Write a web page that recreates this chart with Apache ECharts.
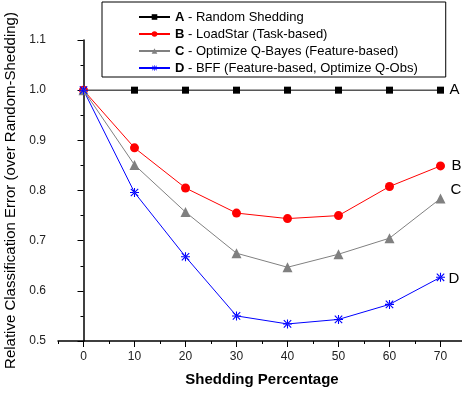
<!DOCTYPE html>
<html>
<head>
<meta charset="utf-8">
<script src="https://cdn.jsdelivr.net/npm/echarts@6/dist/echarts.min.js"></script>
<style>
  html, body { margin: 0; padding: 0; background: #fff; }
  #main { width: 462px; height: 396px; }
</style>
</head>
<body>
<div id="main"></div>
<script>
var xValues = [0, 10, 20, 30, 40, 50, 60, 70];
var seriesA = [1.0, 1.0, 1.0, 1.0, 1.0, 1.0, 1.0, 1.0];
var seriesB = [1.0, 0.885, 0.805, 0.755, 0.744, 0.750, 0.808, 0.849];
var seriesC = [1.0, 0.851, 0.757, 0.675, 0.647, 0.673, 0.705, 0.784];
var seriesD = [1.0, 0.796, 0.668, 0.550, 0.534, 0.543, 0.573, 0.627];
var xLabelValues = [0, 10, 20, 30, 40, 50, 60, 70];
var xMinorTicks = [-5, 5, 15, 25, 35, 45, 55, 65, 75];
var legendNames = ['A', 'B', 'C', 'D'];
var legendText = {
    A: 'Random Shedding',
    B: 'LoadStar (Task-based)',
    C: 'Optimize Q-Bayes (Feature-based)',
    D: 'BFF (Feature-based, Optimize Q-Obs)'
};

// asterisk marker made of thin bars
var asterisk = 'path://M8.8,0L11.2,0L11.2,20L8.8,20Z M0,8.8L20,8.8L20,11.2L0,11.2Z ' +
    'M2.6,0.9L0.9,2.6L17.4,19.1L19.1,17.4Z M17.4,0.9L19.1,2.6L2.6,19.1L0.9,17.4Z';

var font = 'Liberation Sans, Arial, sans-serif';
var pairs = (arr) => xValues.map((x, i) => [x, arr[i]]);

var mk = (name, data, color, symbol, size, off) => ({
    name: name,
    type: 'line',
    data: pairs(data),
    symbol: symbol,
    symbolSize: size,
    lineStyle: { color: color, width: 1 },
    itemStyle: { color: color },
    emphasis: { disabled: true },
    animation: false,
    endLabel: {
        show: true,
        formatter: name,
        color: '#000',
        fontSize: 15,
        fontFamily: font,
        offset: off
    }
});

var chart = echarts.init(document.getElementById('main'));
chart.setOption({
    animation: false,
    textStyle: { fontFamily: font },
    grid: { left: 58, top: 40, bottom: 55, width: 408, outerBoundsMode: 'none', containLabel: false },
    legend: {
        orient: 'vertical',
        left: 102,
        top: 2,
        padding: [8, 28, 2, 36],
        itemWidth: 31,
        itemHeight: 7,
        itemGap: 3,
        borderColor: '#000',
        borderWidth: 1,
        data: legendNames,
        formatter: (n) => '{b|' + n + '} - ' + legendText[n],
        textStyle: {
            fontSize: 13,
            color: '#000',
            fontFamily: font,
            lineHeight: 14,
            rich: { b: { fontWeight: 'bold', fontSize: 13, fontFamily: font } }
        }
    },
    xAxis: [{
        type: 'value',
        min: -5,
        max: 75,
        name: 'Shedding Percentage',
        nameLocation: 'middle',
        nameGap: 31,
        nameTextStyle: { fontSize: 15, fontWeight: 'bold', color: '#000', fontFamily: font },
        axisLine: { lineStyle: { color: '#000', width: 1.5 } },
        axisTick: { show: true, length: 6, customValues: xLabelValues, lineStyle: { color: '#000' } },
        axisLabel: { customValues: xLabelValues, fontSize: 12, color: '#222', margin: 10 },
        splitLine: { show: false }
    }, {
        type: 'value',
        position: 'bottom',
        min: -5,
        max: 75,
        axisLine: { show: false },
        axisTick: { show: true, length: 3, customValues: xMinorTicks, lineStyle: { color: '#000' } },
        axisLabel: { show: false },
        splitLine: { show: false }
    }],
    yAxis: {
        type: 'value',
        min: 0.5,
        max: 1.1,
        interval: 0.1,
        name: 'Relative Classification Error (over Random-Shedding)',
        nameLocation: 'middle',
        nameGap: 28,
        nameTextStyle: { fontSize: 15, color: '#000', fontFamily: font },
        axisLine: { show: true, lineStyle: { color: '#000', width: 1.5 } },
        axisTick: { show: true, length: 6, lineStyle: { color: '#000' } },
        minorTick: { show: true, splitNumber: 2, length: 3, lineStyle: { color: '#000' } },
        axisLabel: { fontSize: 12, color: '#222', margin: 12, formatter: (v) => v.toFixed(1) },
        splitLine: { show: false }
    },
    series: [
        mk('A', seriesA, '#000000', 'rect', 7, [1, 0]),
        mk('B', seriesB, '#ff0000', 'circle', 9, [3, 0]),
        mk('C', seriesC, '#808080', 'triangle', 10, [2, -9]),
        mk('D', seriesD, '#0000ff', asterisk, 9, [0, 2])
    ]
});
</script>
</body>
</html>
